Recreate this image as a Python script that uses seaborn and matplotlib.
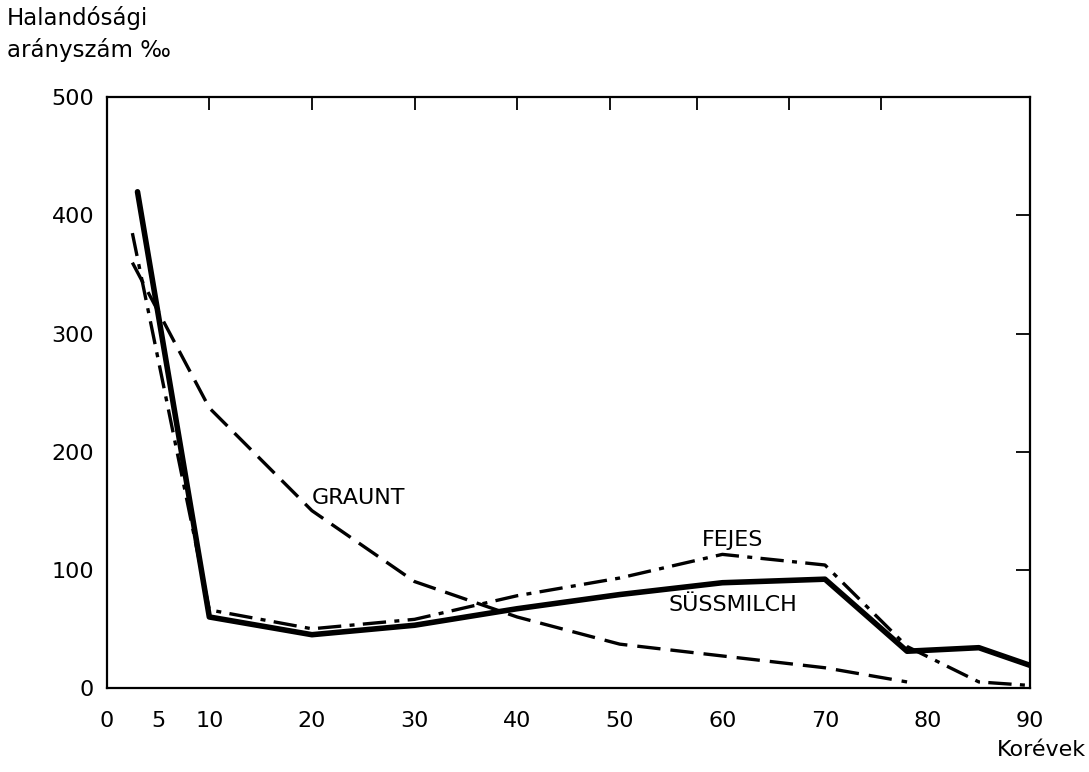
import pandas as pd
import matplotlib
matplotlib.use("Agg")
import matplotlib.pyplot as plt
import seaborn as sns

# Values (age in years, mortality per mille)
suessmilch_age = [3, 10, 20, 30, 40, 50, 60, 70, 78, 85, 90]
suessmilch_rate = [420, 60, 45, 53, 67, 79, 89, 92, 31, 34, 19]

fejes_age = [2.5, 10, 20, 30, 40, 50, 60, 70, 78, 85, 90]
fejes_rate = [385, 66, 50, 58, 78, 93, 113, 104, 35, 5, 2]

graunt_age = [2.5, 10, 20, 30, 40, 50, 60, 70, 78]
graunt_rate = [360, 237, 150, 90, 60, 37, 27, 17, 5]

x_ticks = [0, 5, 10, 20, 30, 40, 50, 60, 70, 80, 90]
x_minor = [75, 85]
y_ticks = [0, 100, 200, 300, 400, 500]
top_ticks = [10, 20, 30, 40, 49, 57.5, 66.5, 75.5]
right_ticks = [100, 200, 300, 400]


def build_frame():
    parts = [
        pd.DataFrame({"age": suessmilch_age, "rate": suessmilch_rate, "author": "SÜSSMILCH"}),
        pd.DataFrame({"age": fejes_age, "rate": fejes_rate, "author": "FEJES"}),
        pd.DataFrame({"age": graunt_age, "rate": graunt_rate, "author": "GRAUNT"}),
    ]
    return pd.concat(parts, ignore_index=True)


def main():
    sns.set_theme(style="white")
    plt.rcParams["font.family"] = ["DejaVu Sans"]
    plt.rcParams["text.color"] = "black"
    plt.rcParams["xtick.color"] = "black"
    plt.rcParams["ytick.color"] = "black"
    df = build_frame()

    fig = plt.figure(figsize=(10.89, 7.72), dpi=100)
    ax = fig.add_axes([0.098, 0.109, 0.848, 0.765])

    styles = {
        "SÜSSMILCH": dict(lw=4.0, ls="-"),
        "FEJES": dict(lw=2.4, ls=(0, (7, 2.5, 1.5, 2.5))),
        "GRAUNT": dict(lw=2.4, ls=(0, (7, 3))),
    }
    for name, sub in df.groupby("author", sort=False):
        sns.lineplot(data=sub, x="age", y="rate", ax=ax, color="black",
                     estimator=None, sort=False, legend=False,
                     linewidth=styles[name]["lw"], linestyle=styles[name]["ls"])

    ax.set_xlim(0, 90)
    ax.set_ylim(0, 500)
    ax.set_xticks(x_ticks)
    ax.set_xticks(x_minor, minor=True)
    ax.set_yticks(y_ticks)
    ax.set_xlabel("")
    ax.set_ylabel("")

    for s in ax.spines.values():
        s.set_color("black")
        s.set_linewidth(1.6)

    ax.tick_params(axis="both", which="major", direction="inout", length=14,
                   width=1.5, colors="black", labelcolor="black", labelsize=16, pad=6)
    ax.tick_params(axis="x", which="minor", direction="in", length=8,
                   width=1.3, colors="black")
    ax.tick_params(axis="x", which="major", pad=10)
    ax.tick_params(axis="y", which="major", pad=2)

    # ticks on the top and right edges
    top = ax.secondary_xaxis("top")
    top.set_xticks(top_ticks)
    top.tick_params(direction="in", length=9, width=1.3, labeltop=False, colors="black")
    top.spines["top"].set_visible(False)
    right = ax.secondary_yaxis("right")
    right.set_yticks(right_ticks)
    right.tick_params(direction="in", length=10, width=1.3, labelright=False, colors="black")
    right.spines["right"].set_visible(False)

    # curve labels
    ax.text(24.5, 161, "GRAUNT", fontsize=16, ha="center", va="center", color="black")
    ax.text(61, 125, "FEJES", fontsize=16, ha="center", va="center", color="black")
    ax.text(61, 70, "SÜSSMILCH", fontsize=16, ha="center", va="center", color="black")

    fig.text(0.006, 0.992, "Halandósági\narányszám ‰", fontsize=16.5, color="black",
             ha="left", va="top", linespacing=1.4)
    fig.text(0.997, 0.028, "Korévek", fontsize=16, ha="right", va="center", color="black")

    fig.savefig("out.png", dpi=100, facecolor="white")


if __name__ == "__main__":
    main()
